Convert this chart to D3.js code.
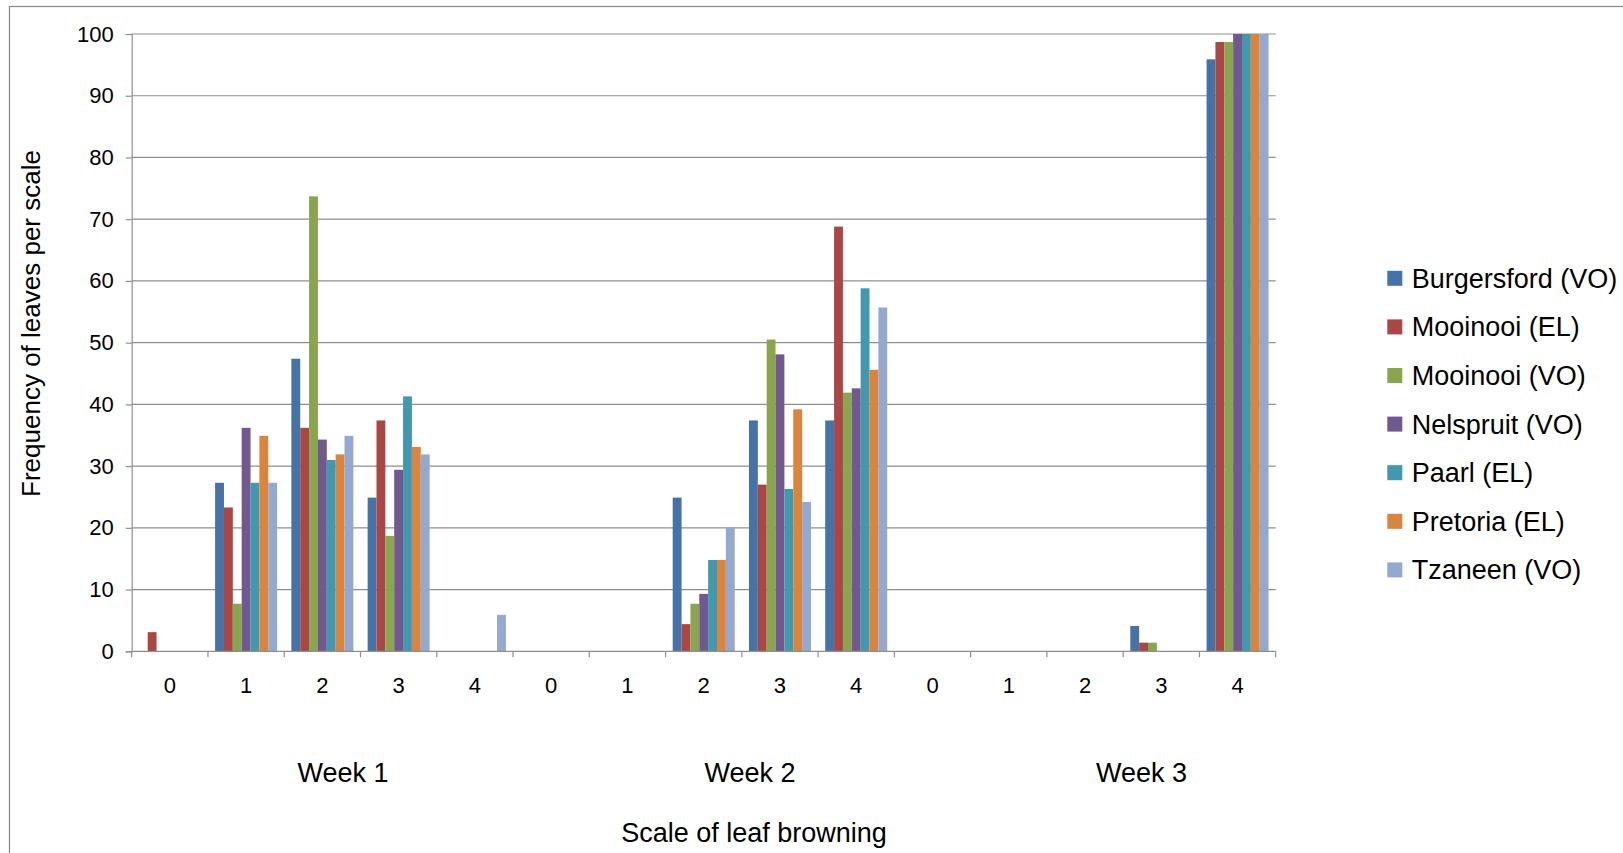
<!DOCTYPE html>
<html>
<head>
<meta charset="utf-8">
<script src="https://cdn.jsdelivr.net/npm/d3@7"></script>
<style>
    body { margin: 0; background: #fff; }
    svg { display: block; font-family: "Liberation Sans", Arial, sans-serif; }
</style>
</head>
<body>
<svg id="chart" width="1623" height="853"></svg>
<script>
// Data
const weeks = ["Week 1", "Week 2", "Week 3"];
const scales = ["0", "1", "2", "3", "4"];
const series = ["Burgersford (VO)", "Mooinooi (EL)", "Mooinooi (VO)", "Nelspruit (VO)", "Paarl (EL)", "Pretoria (EL)", "Tzaneen (VO)"];
const colours = ["#4572A7", "#AA4643", "#89A54E", "#71588F", "#4198AF", "#DB843D", "#93A9CF"];
const yTicks = [0, 10, 20, 30, 40, 50, 60, 70, 80, 90, 100];

// one value per week/scale, week 1 first
const burgersford = [0, 27.3, 47.4, 24.9, 0,   0, 0, 24.9, 37.4, 37.4,   0, 0, 0, 4.1, 95.9];
const mooinooiEL  = [3.1, 23.3, 36.2, 37.4, 0,   0, 0, 4.4, 27.0, 68.8,   0, 0, 0, 1.4, 98.7];
const mooinooiVO  = [0, 7.7, 73.7, 18.7, 0,   0, 0, 7.7, 50.5, 41.9,   0, 0, 0, 1.4, 98.7];
const nelspruit   = [0, 36.2, 34.3, 29.4, 0,   0, 0, 9.3, 48.1, 42.6,   0, 0, 0, 0, 100];
const paarl       = [0, 27.3, 31.0, 41.3, 0,   0, 0, 14.8, 26.3, 58.8,   0, 0, 0, 0, 100];
const pretoria    = [0, 34.9, 31.9, 33.1, 0,   0, 0, 14.8, 39.2, 45.6,   0, 0, 0, 0, 100];
const tzaneen     = [0, 27.3, 34.9, 31.9, 5.9,   0, 0, 20.1, 24.2, 55.7,   0, 0, 0, 0, 100];
const seriesValues = [burgersford, mooinooiEL, mooinooiVO, nelspruit, paarl, pretoria, tzaneen];

// Layout
const plot = {left: 131.7, right: 1275.7, top: 34, bottom: 651.3};
const weekLabelX = [343, 750, 1141.5];
const gridColour = "#8f8f8f";

const svg = d3.select("#chart");

// categories are week + scale pairs
const categories = [];
weeks.forEach((w, wi) => scales.forEach(s => categories.push({week: wi, scale: s, key: wi + "-" + s})));

const x0 = d3.scaleBand()
    .domain(categories.map(c => c.key))
    .range([plot.left, plot.right])
    .paddingInner(0.187)
    .paddingOuter(0.0935);
const x1 = d3.scaleBand()
    .domain(series)
    .range([0, x0.bandwidth()]);
const y = d3.scaleLinear()
    .domain([0, 100])
    .range([plot.bottom, plot.top]);
const step = x0.step();

// outer chart border
svg.append("rect")
    .attr("x", 9.5).attr("y", 6.5)
    .attr("width", 1700).attr("height", 900)
    .attr("fill", "none")
    .attr("stroke", "#868686")
    .attr("stroke-width", 1.2);

// gridlines
svg.append("g")
    .selectAll("line")
    .data(yTicks.filter(t => t > 0))
    .join("line")
    .attr("x1", plot.left).attr("x2", plot.right)
    .attr("y1", d => y(d)).attr("y2", d => y(d))
    .attr("stroke", gridColour)
    .attr("stroke-width", 1.2);

// bars
const rows = [];
categories.forEach((c, ci) => {
    series.forEach((s, si) => rows.push({key: c.key, name: s, colour: colours[si], value: seriesValues[si][ci]}));
});
svg.append("g")
    .selectAll("rect")
    .data(rows.filter(r => r.value > 0))
    .join("rect")
    .attr("x", d => x0(d.key) + x1(d.name))
    .attr("y", d => y(d.value))
    .attr("width", x1.bandwidth())
    .attr("height", d => y(0) - y(d.value))
    .attr("fill", d => d.colour);

// y axis
const yAxis = svg.append("g")
    .attr("transform", "translate(" + plot.left + ",0)")
    .call(d3.axisLeft(y).tickValues(yTicks).tickSize(6).tickPadding(12));
yAxis.select(".domain").attr("stroke", gridColour).attr("stroke-width", 1.2);
yAxis.selectAll(".tick line").attr("stroke", gridColour).attr("stroke-width", 1.2);
yAxis.selectAll(".tick text")
    .attr("font-size", 22)
    .attr("font-family", "Liberation Sans, Arial, sans-serif")
    .attr("fill", "#000");

// x axis line and tick marks at category edges
svg.append("line")
    .attr("x1", plot.left).attr("x2", plot.right)
    .attr("y1", y(0)).attr("y2", y(0))
    .attr("stroke", gridColour)
    .attr("stroke-width", 1.2);
svg.append("g")
    .selectAll("line")
    .data(d3.range(categories.length + 1))
    .join("line")
    .attr("x1", i => plot.left + i * step).attr("x2", i => plot.left + i * step)
    .attr("y1", y(0)).attr("y2", y(0) + 6)
    .attr("stroke", gridColour)
    .attr("stroke-width", 1.2);

// scale labels under each category
svg.append("g")
    .selectAll("text")
    .data(categories)
    .join("text")
    .attr("x", d => x0(d.key) + x0.bandwidth() / 2)
    .attr("y", 693.3)
    .attr("text-anchor", "middle")
    .attr("font-size", 22)
    .text(d => d.scale);

// week labels
svg.append("g")
    .selectAll("text")
    .data(weeks)
    .join("text")
    .attr("x", (d, i) => weekLabelX[i])
    .attr("y", 782)
    .attr("text-anchor", "middle")
    .attr("font-size", 27)
    .text(d => d);

// axis titles
svg.append("text")
    .attr("x", 754).attr("y", 841.5)
    .attr("text-anchor", "middle")
    .attr("font-size", 27)
    .text("Scale of leaf browning");
svg.append("text")
    .attr("transform", "translate(40.3,323.5) rotate(-90)")
    .attr("text-anchor", "middle")
    .attr("font-size", 26)
    .text("Frequency of leaves per scale");

// legend
const legend = svg.append("g")
    .selectAll("g")
    .data(series)
    .join("g")
    .attr("transform", (d, i) => "translate(1387.3," + (278.3 + i * 48.6) + ")");
legend.append("rect")
    .attr("x", 0).attr("y", -7.5)
    .attr("width", 15).attr("height", 15)
    .attr("fill", (d, i) => colours[i]);
legend.append("text")
    .attr("x", 24.4).attr("y", 9.5)
    .attr("font-size", 27)
    .text(d => d);
</script>
</body>
</html>
